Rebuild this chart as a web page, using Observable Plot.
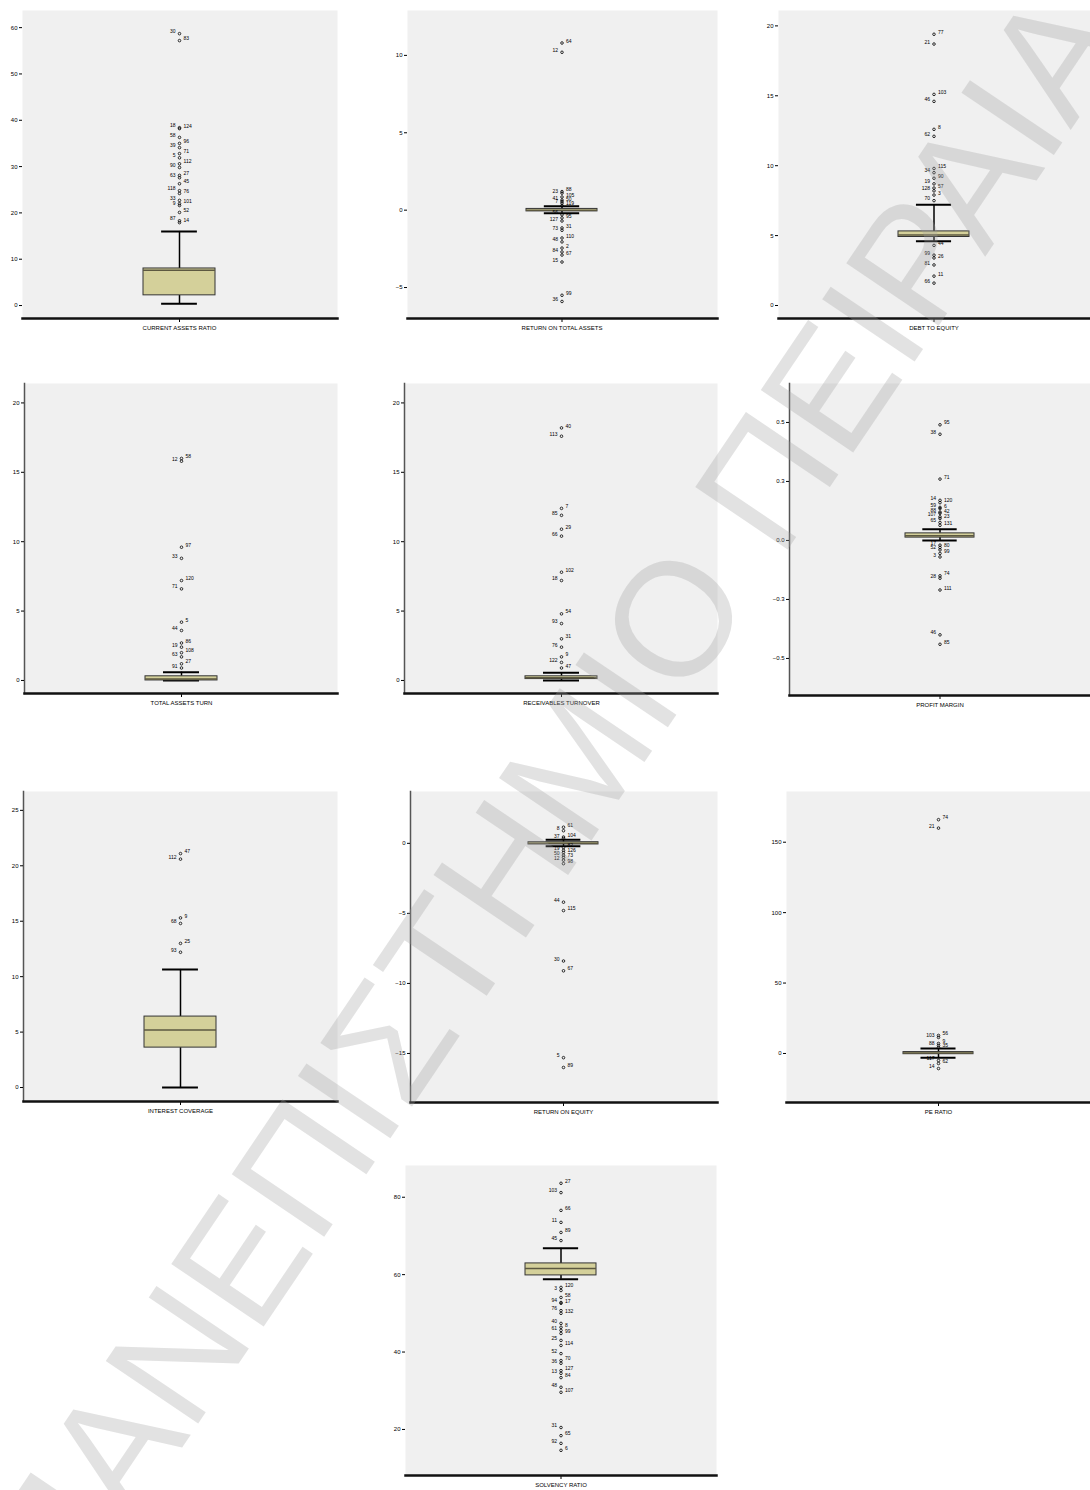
<!DOCTYPE html>
<html><head><meta charset="utf-8">
<script src="https://cdn.jsdelivr.net/npm/d3@7"></script>
<script src="https://cdn.jsdelivr.net/npm/@observablehq/plot@0.6"></script>
<style>
html,body{margin:0;padding:0;background:#fff}
body{width:1090px;height:1490px;position:relative;overflow:hidden;font-family:"Liberation Sans",Arial,sans-serif}
.panel{position:absolute}
#wm{position:absolute;left:0;top:0;pointer-events:none}
</style></head><body>
<script>
// ---------- DATA ----------
const panelNames = [
  "CURRENT ASSETS RATIO", "RETURN ON TOTAL ASSETS", "DEBT TO EQUITY",
  "TOTAL ASSETS TURN", "RECEIVABLES TURNOVER", "PROFIT MARGIN",
  "INTEREST COVERAGE", "RETURN ON EQUITY", "PE RATIO",
  "SOLVENCY RATIO"
];
const yTicks = [
  [0, 10, 20, 30, 40, 50, 60],
  [-5, 0, 5, 10],
  [0, 5, 10, 15, 20],
  [0, 5, 10, 15, 20],
  [0, 5, 10, 15, 20],
  [-0.5, -0.25, 0, 0.25, 0.5],
  [0, 5, 10, 15, 20, 25],
  [-15, -10, -5, 0],
  [0, 50, 100, 150],
  [20, 40, 60, 80]
];
const yDomains = [
  [-2.8, 63.7], [-7.0, 12.9], [-0.93, 21.1],
  [-0.94, 21.4], [-0.94, 21.4], [-0.657, 0.665],
  [-1.26, 26.7], [-18.5, 3.7], [-34.8, 186],
  [8.1, 88.2]
];
const whiskLo = [0.4, -0.2, 4.6, 0.0, 0.0, 0.0, 0.0, -0.2, -3.0, 58.8];
const q1s     = [2.2, -0.08, 4.9, 0.0, 0.1, 0.012, 3.6, -0.08, -0.5, 59.8];
const medians = [7.6, 0.0, 5.05, 0.1, 0.2, 0.02, 5.2, 0.0, 0.3, 61.6];
const q3s     = [8.0, 0.08, 5.3, 0.3, 0.3, 0.03, 6.4, 0.08, 1.0, 62.9];
const whiskHi = [16.0, 0.25, 7.2, 0.6, 0.55, 0.047, 10.65, 0.25, 3.6, 66.8];

const outVals = [
  [17.9, 18.3, 20.1, 21.6, 22.0, 22.7, 24.2, 24.8, 26.3, 27.6, 28.1, 29.8, 30.6, 31.9, 32.8, 34.1, 35.0, 36.3, 38.2, 38.4, 57.2, 58.7],
  [10.8, 10.2, 1.2, 1.1, 0.85, 0.65, 0.55, 0.45, 0.3, -0.3, -0.5, -0.7, -1.15, -1.3, -1.8, -2.05, -2.45, -2.7, -2.9, -3.35, -5.5, -5.9],
  [19.4, 18.7, 15.1, 14.6, 12.6, 12.1, 9.8, 9.5, 9.1, 8.7, 8.4, 8.2, 7.9, 7.5, 4.3, 3.6, 3.4, 2.9, 2.1, 1.6],
  [16.0, 15.8, 9.6, 8.8, 7.2, 6.6, 4.2, 3.6, 2.7, 2.4, 2.0, 1.7, 1.2, 0.9],
  [18.2, 17.6, 12.4, 11.9, 10.9, 10.4, 7.8, 7.2, 4.8, 4.1, 3.0, 2.4, 1.7, 1.3, 0.9],
  [0.49, 0.45, 0.26, 0.17, 0.16, 0.14, 0.135, 0.12, 0.115, 0.10, 0.093, 0.076, 0.064, -0.02, -0.03, -0.04, -0.055, -0.07, -0.15, -0.16, -0.21, -0.40, -0.44],
  [21.1, 20.6, 15.3, 14.8, 13.0, 12.2],
  [1.15, 0.9, 0.45, 0.35, -0.3, -0.5, -0.65, -0.85, -1.0, -1.2, -1.45, -4.2, -4.8, -8.4, -9.1, -15.3, -16.0],
  [166, 160, 12.8, 11.4, 7.1, 5.7, 4.3, -5, -7.1, -10.7],
  [83.6, 81.2, 76.6, 73.5, 70.9, 68.8, 56.7, 55.9, 54.1, 52.8, 52.6, 50.7, 50.0, 47.4, 46.4, 45.6, 44.8, 43.0, 41.7, 39.6, 37.8, 37.1, 35.2, 34.5, 33.4, 30.9, 29.6, 20.5, 18.4, 16.4, 14.6]
];
const outIds = [
  [14, 87, 52, 9, 101, 33, 76, 118, 45, 63, 27, 90, 112, 5, 71, 39, 96, 58, 124, 18, 83, 30],
  [64, 12, 88, 23, 105, 41, 50, 7, 119, 56, 95, 127, 31, 73, 110, 48, 2, 84, 67, 15, 99, 36],
  [77, 21, 103, 46, 8, 62, 115, 34, 90, 19, 57, 128, 3, 70, 44, 99, 26, 81, 11, 66],
  [58, 12, 97, 33, 120, 71, 5, 44, 86, 19, 108, 63, 27, 91],
  [40, 113, 7, 85, 29, 66, 102, 18, 54, 93, 31, 76, 9, 122, 47],
  [95, 38, 71, 14, 120, 59, 6, 88, 42, 107, 23, 65, 131, 17, 80, 52, 99, 3, 74, 28, 111, 46, 85],
  [47, 112, 9, 68, 25, 93],
  [61, 8, 104, 37, 82, 19, 126, 50, 73, 12, 98, 44, 115, 30, 67, 5, 89],
  [74, 21, 56, 103, 9, 88, 35, 117, 62, 14],
  [27, 103, 66, 11, 89, 45, 120, 3, 58, 94, 17, 76, 132, 40, 8, 61, 99, 25, 114, 52, 70, 36, 127, 13, 84, 48, 107, 31, 65, 92, 6]
];
const watermarkText = "ΠΑΝΕΠΙΣΤΗΜΙΟ ΠΕΙΡΑΙΑ";

// ---------- LAYOUT (not data) ----------
const frames = [
  [22, 10, 315, 308], [407, 10, 310, 308], [778, 10, 312, 308],
  [24, 383, 313, 310], [404, 383, 313, 310], [789, 383, 301, 312],
  [23, 791, 314, 310], [410, 791, 307, 311], [786, 791, 304, 311],
  [405, 1165, 311, 310]
];
const leftLine = [false, false, false, true, true, true, true, true, false, false];

const FONT = "'Liberation Sans', Arial, sans-serif";
const mL = 34, mT = 4, mB = 22, mR = 0;

function makePanel(i) {
  const [fx, fy, fw, fh] = frames[i];
  const name = panelNames[i];
  const stat = [{name, q1: q1s[i], med: medians[i], q3: q3s[i], lo: whiskLo[i], hi: whiskHi[i]}];
  const outs = outVals[i].map((v, k) => ({name, v, id: String(outIds[i][k]), k}));
  const bw = fw * 0.23;
  const capInset = bw * 0.25;
  const plot = Plot.plot({
    width: fw + mL + mR,
    height: fh + mT + mB,
    marginLeft: mL, marginTop: mT, marginBottom: mB, marginRight: mR,
    style: {fontFamily: FONT, fontSize: "6px", background: "transparent", color: "#000", overflow: "visible"},
    x: {type: "band", domain: [name], padding: 0.626, label: null},
    y: {domain: yDomains[i], label: null},
    marks: [
      Plot.frame({fill: "#f0f0f0", stroke: null}),
      leftLine[i] ? Plot.frame({anchor: "left", stroke: "#555", strokeWidth: 1.5}) : null,
      Plot.ruleX(stat, {x: "name", y1: "lo", y2: "q1", stroke: "#000", strokeWidth: 1.5}),
      Plot.ruleX(stat, {x: "name", y1: "q3", y2: "hi", stroke: "#000", strokeWidth: 1.5}),
      Plot.tickY(stat, {x: "name", y: "lo", stroke: "#000", strokeWidth: 2, insetLeft: capInset, insetRight: capInset}),
      Plot.tickY(stat, {x: "name", y: "hi", stroke: "#000", strokeWidth: 2, insetLeft: capInset, insetRight: capInset}),
      Plot.barY(stat, {x: "name", y1: "q1", y2: "q3", fill: "#d4d09a", stroke: "#333", strokeWidth: 1}),
      Plot.tickY(stat, {x: "name", y: "med", stroke: "#5c5840", strokeWidth: 1.5}),
      Plot.dot(outs, {x: "name", y: "v", r: 1.3, stroke: "#000", strokeWidth: 0.8}),
      Plot.text(outs.filter(d => d.k % 2 === 0), {x: "name", y: "v", text: "id", dx: 4, dy: -2, textAnchor: "start", fontSize: 5, fill: "#000"}),
      Plot.text(outs.filter(d => d.k % 2 === 1), {x: "name", y: "v", text: "id", dx: -4, dy: -2, textAnchor: "end", fontSize: 5, fill: "#000"}),
      Plot.axisY({ticks: yTicks[i], tickSize: 3, tickPadding: 2, fontSize: 6}),
      Plot.axisX({tickSize: 4, tickPadding: 3, fontSize: 6}),
      Plot.frame({anchor: "bottom", stroke: "#111", strokeWidth: 2.5})
    ]
  });
  const div = document.createElement("div");
  div.className = "panel";
  div.style.left = (fx - mL) + "px";
  div.style.top = (fy - mT) + "px";
  div.appendChild(plot);
  document.body.appendChild(div);
}

for (let i = 0; i < panelNames.length; i++) makePanel(i);

// watermark overlay
const wm = d3.select("body").append("svg")
  .attr("id", "wm").attr("width", 1090).attr("height", 1490);
wm.append("text")
  .attr("transform", "translate(65,1621) rotate(-56)")
  .attr("font-family", FONT)
  .attr("font-size", 162)
  .attr("fill", "#a0a0a0")
  .attr("fill-opacity", 0.3)
  .text(watermarkText);
</script>
</body></html>
